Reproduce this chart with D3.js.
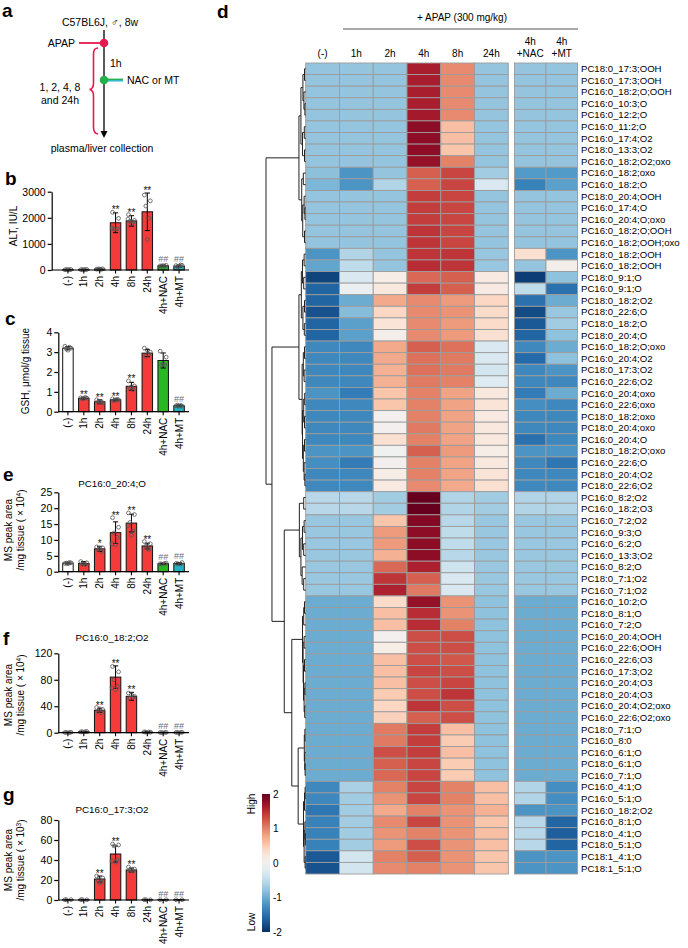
<!DOCTYPE html>
<html><head><meta charset="utf-8">
<script src="https://cdn.jsdelivr.net/npm/d3@7"></script>
<style>
body{margin:0;background:#fff;}
svg{display:block;font-family:"Liberation Sans",Arial,Helvetica,sans-serif;}
</style></head><body>
<svg id="fig" width="688" height="948"></svg>
<script>
// ================= DATA =================
const groups = ["(-)","1h","2h","4h","8h","24h","4h+NAC","4h+MT"];

// panel b: ALT (IU/L)
const altMean = [15, 15, 35, 1810, 1880, 2230, 160, 150];
const altSD   = [10, 8, 10, 380, 200, 720, 30, 40];
const altPts  = [[10,20,15,12,18],[15,20,10,18,14],[30,45,40,25,35],[2210,1980,1570,1580,1560,1600],[2120,1900,1870,1830,1760,1950],[2870,2650,2450,1980,1170],[160,180,150,140,170],[170,180,120,190,150]];
const altStats = ["","","","**","**","**","##","##"];

// panel c: GSH (umol/g tissue)
const gshMean = [3.2, 0.68, 0.5, 0.6, 1.28, 2.95, 2.58, 0.3];
const gshSD   = [0.08, 0.05, 0.1, 0.05, 0.2, 0.18, 0.38, 0.05];
const gshPts  = [[3.3,3.2,3.15,3.25,3.1],[0.7,0.68,0.65,0.72,0.66],[0.6,0.45,0.5,0.48,0.52],[0.65,0.6,0.55,0.62,0.58],[1.55,1.3,1.2,1.1,1.25],[3.2,3.0,2.8,2.9,3.1],[3.05,2.75,2.35,2.35,2.4],[0.3,0.28,0.33,0.32,0.27]];
const gshStats = ["","**","**","**","**","","","##"];

// panel e: PC16:0_20:4;O (x10^4)
const eMean = [2.7, 2.6, 7.2, 12.3, 15.3, 8.1, 2.5, 2.6];
const eSD   = [0.3, 0.6, 0.8, 3.4, 2.8, 0.9, 0.2, 0.3];
const ePts  = [[2.6,2.8,2.7,2.9,2.5],[3.2,2.8,2.4,2.3,2.5],[7.8,7.5,7.0,6.3,7.4],[17.0,14.0,12.2,10.8,8.5,8.8],[18.5,18.0,15.5,12.8,11.5,14.5],[9.5,8.8,8.0,7.0,7.2],[2.5,2.7,2.4,2.6],[2.6,2.9,2.5,2.4]];
const eStats = ["","","*","**","**","**","##","##"];

// panel f: PC16:0_18:2;O2 (x10^4)
const fMean = [0.5, 1.5, 34, 84, 55, 1.0, 0.4, 0.5];
const fSD   = [0.3, 0.5, 3, 17, 6, 0.5, 0.2, 0.2];
const fPts  = [[0.4,0.6,0.5,0.3],[1.2,1.8,1.5,1.6],[38,35,32,30,36],[100,92,80,70,65,68],[60,55,52,54,57],[1.2,0.8,1.0,1.1],[0.4,0.5,0.3,0.4],[0.5,0.6,0.4,0.5]];
const fStats = ["","","**","**","**","","##","##"];

// panel g: PC16:0_17:3;O2 (x10^3)
const gMean = [0.3, 0.3, 21, 46, 30, 0.3, 0.3, 0.3];
const gSD   = [0.2, 0.2, 3, 8, 2, 0.2, 0.1, 0.1];
const gPts  = [[0.3,0.4,0.2],[0.3,0.2,0.4],[24,22,20,18,17],[56,55,54,40,38,39],[33,31,30,29,30],[0.3,0.2,0.4],[0.3,0.3],[0.3,0.3]];
const gStats = ["","","**","**","**","","##","##"];

// panel d: heatmap
const heatCols = ["(-)","1h","2h","4h","8h","24h","4h|+NAC","4h|+MT"];
const rowLabels = [
"PC18:0_17:3;OOH","PC16:0_17:3;OOH","PC16:0_18:2;O;OOH","PC16:0_10:3;O","PC16:0_12:2;O","PC16:0_11:2;O",
"PC16:0_17:4;O2","PC18:0_13:3;O2","PC16:0_18:2;O2;oxo","PC16:0_18:2;oxo","PC16:0_18:2;O","PC18:0_20:4;OOH",
"PC16:0_17:4;O","PC16:0_20:4;O;oxo","PC16:0_18:2;O;OOH","PC16:0_18:2;OOH;oxo","PC18:0_18:2;OOH","PC16:0_18:2;OOH",
"PC18:0_9:1;O","PC16:0_9:1;O","PC18:0_18:2;O2","PC18:0_22:6;O","PC18:0_18:2;O","PC18:0_20:4;O",
"PC16:0_18:2;O;oxo","PC16:0_20:4;O2","PC18:0_17:3;O2","PC16:0_22:6;O2","PC16:0_20:4;oxo","PC16:0_22:6;oxo",
"PC18:0_18:2;oxo","PC18:0_20:4;oxo","PC16:0_20:4;O","PC18:0_18:2;O;oxo","PC16:0_22:6;O","PC18:0_20:4;O2",
"PC18:0_22:6;O2","PC16:0_8:2;O2","PC16:0_18:2;O3","PC16:0_7:2;O2","PC16:0_9:3;O","PC16:0_6:2;O",
"PC16:0_13:3;O2","PC16:0_8:2;O","PC18:0_7:1;O2","PC16:0_7:1;O2","PC16:0_10:2;O","PC18:0_8:1;O",
"PC16:0_7:2;O","PC16:0_20:4;OOH","PC16:0_22:6;OOH","PC16:0_22:6;O3","PC16:0_17:3;O2","PC16:0_20:4;O3",
"PC18:0_20:4;O3","PC16:0_20:4;O2;oxo","PC16:0_22:6;O2;oxo","PC18:0_7:1;O","PC16:0_8:0","PC16:0_6:1;O",
"PC18:0_6:1;O","PC16:0_7:1;O","PC16:0_4:1;O","PC16:0_5:1;O","PC16:0_18:2;O2","PC16:0_8:1;O",
"PC18:0_4:1;O","PC18:0_5:1;O","PC18:1_4:1;O","PC18:1_5:1;O"];
// z-scores: (-),1h,2h,4h,8h,24h,NAC,MT
const heatValues = [
[-0.77,-0.77,-0.77,1.62,0.95,-0.77,-0.77,-0.77],
[-0.77,-0.77,-0.77,1.62,0.95,-0.77,-0.77,-0.77],
[-0.77,-0.77,-0.77,1.62,0.95,-0.77,-0.77,-0.77],
[-0.77,-0.77,-0.77,1.62,0.95,-0.77,-0.77,-0.77],
[-0.77,-0.77,-0.77,1.65,0.95,-0.77,-0.77,-0.77],
[-0.77,-0.77,-0.77,1.80,0.60,-0.77,-0.77,-0.77],
[-0.77,-0.77,-0.77,1.80,0.60,-0.77,-0.77,-0.77],
[-0.77,-0.77,-0.77,1.80,0.55,-0.77,-0.77,-0.77],
[-0.77,-0.77,-0.77,1.75,1.00,-0.77,-0.77,-0.77],
[-0.82,-1.20,-0.77,1.20,1.35,-0.70,-1.15,-1.15],
[-0.90,-1.20,-0.60,1.20,1.35,-0.30,-1.35,-1.10],
[-0.77,-0.77,-0.77,1.40,1.35,-0.77,-0.77,-0.77],
[-0.77,-0.77,-0.77,1.40,1.35,-0.77,-0.77,-0.77],
[-0.77,-0.77,-0.77,1.40,1.35,-0.77,-0.77,-0.77],
[-0.77,-0.77,-0.77,1.45,1.35,-0.77,-0.77,-0.77],
[-0.77,-0.77,-0.77,1.45,1.35,-0.77,-0.77,-0.77],
[-1.20,-0.60,-0.77,1.45,1.45,-0.75,0.30,-1.20],
[-1.05,-0.50,-0.77,1.50,1.45,-0.75,-0.77,0.05],
[-1.85,-0.30,0.10,1.15,1.20,0.15,-1.90,-0.80],
[-1.60,-0.10,0.20,1.40,1.20,0.15,-0.50,-1.50],
[-1.60,-1.00,0.75,0.95,0.85,0.40,-1.50,-1.00],
[-1.75,-0.85,0.40,0.95,0.90,0.35,-1.80,-0.75],
[-1.60,-1.10,0.25,0.95,0.85,0.35,-1.70,-0.70],
[-1.60,-1.10,0.05,0.95,0.85,0.30,-1.60,-0.80],
[-1.30,-1.30,0.75,1.20,1.10,-0.30,-1.30,-1.00],
[-1.30,-1.30,0.75,1.10,1.05,-0.30,-1.55,-0.80],
[-1.30,-1.30,0.70,1.10,1.05,-0.35,-1.30,-1.20],
[-1.30,-1.30,0.70,1.05,1.00,-0.25,-1.30,-1.30],
[-1.20,-1.40,0.55,1.00,0.80,0.20,-1.40,-1.00],
[-1.30,-1.30,0.55,1.00,0.80,0.25,-1.25,-1.30],
[-1.30,-1.30,0.00,1.00,0.80,0.15,-1.30,-1.30],
[-1.30,-1.30,0.00,1.05,0.80,0.20,-1.30,-1.30],
[-1.30,-1.30,0.30,1.00,0.80,0.20,-1.50,-1.30],
[-1.20,-1.20,-0.05,1.20,0.85,0.10,-1.20,-1.20],
[-1.25,-1.40,0.00,1.00,0.80,0.20,-1.30,-1.45],
[-1.30,-1.30,0.10,1.00,0.80,0.25,-1.30,-1.30],
[-1.30,-1.30,0.15,0.95,0.75,0.30,-1.30,-1.30],
[-0.55,-0.55,-0.70,2.00,-0.60,-0.70,-0.60,-0.60],
[-0.55,-0.55,-0.70,2.00,-0.60,-0.70,-0.60,-0.60],
[-0.75,-0.75,0.55,1.85,-0.55,-0.75,-0.75,-0.75],
[-0.75,-0.75,0.85,1.80,-0.50,-0.75,-0.75,-0.75],
[-0.75,-0.75,0.85,1.80,-0.50,-0.75,-0.75,-0.75],
[-0.75,-0.75,0.70,1.80,-0.55,-0.75,-0.75,-0.75],
[-0.75,-0.75,1.15,1.60,-0.40,-0.75,-0.75,-0.75],
[-0.75,-0.75,1.45,1.20,-0.30,-0.75,-0.75,-0.75],
[-0.75,-0.75,1.60,1.05,-0.30,-0.75,-0.75,-0.75],
[-1.00,-1.00,0.35,1.75,0.90,-0.80,-1.00,-1.00],
[-1.00,-1.00,0.60,1.50,0.90,-0.80,-1.00,-1.00],
[-1.00,-1.00,0.60,1.50,1.00,-0.80,-1.00,-1.00],
[-1.00,-1.00,0.00,1.30,1.30,-0.80,-1.00,-1.00],
[-1.00,-1.00,0.10,1.30,1.30,-0.80,-1.00,-1.00],
[-1.00,-1.00,0.60,1.30,1.25,-0.80,-1.00,-1.00],
[-1.00,-1.00,0.60,1.35,1.30,-0.80,-1.00,-1.00],
[-1.00,-1.00,0.60,1.30,1.35,-0.80,-1.00,-1.00],
[-1.00,-1.00,0.50,1.30,1.45,-0.80,-1.00,-1.00],
[-1.00,-1.00,0.40,1.45,1.30,-0.80,-1.00,-1.00],
[-1.00,-1.00,0.45,1.20,1.30,-0.80,-1.00,-1.00],
[-1.00,-1.00,1.05,1.40,0.60,-0.80,-1.00,-1.00],
[-1.00,-1.00,1.05,1.40,0.50,-0.80,-1.00,-1.00],
[-1.00,-1.00,1.30,1.40,0.60,-0.80,-1.00,-1.00],
[-1.00,-1.00,1.20,1.35,0.50,-0.80,-1.00,-1.00],
[-1.00,-1.00,1.15,1.35,0.50,-0.80,-1.00,-1.00],
[-1.30,-0.65,1.00,1.35,1.00,0.60,-0.60,-1.25],
[-1.30,-0.70,0.90,1.35,1.00,0.60,-0.60,-1.25],
[-1.45,-0.70,0.75,1.00,0.90,0.70,-1.20,-1.20],
[-1.35,-0.70,0.95,1.35,0.90,0.55,-0.55,-1.60],
[-1.35,-0.70,0.90,1.00,0.90,0.60,-0.55,-1.65],
[-1.35,-0.70,0.85,1.30,0.90,0.60,-0.55,-1.60],
[-1.70,-0.35,1.00,1.20,0.90,0.55,-1.20,-1.20],
[-1.75,-0.35,0.95,1.00,0.90,0.55,-1.20,-1.20]];
// row dendrogram: [height, child, child]; leaves are row indices
const dendroTree = [10,
  [1.7,
    [1.2, [0.7, [0.3, 0, 1], [0.45, 2, [0.2, 3, 4]]], [0.8, [0.35, 5, 6], [0.3, 7, 8]]],
    [1.0, [0.6, 9, 10], [0.75, [0.4, 11, [0.2, 12, 13]], [0.3, 14, 15]]]],
  [8.5,
    [1.7,
      [1.1, [0.8, [0.4, 16, 17], [0.5, 18, 19]], [0.7, [0.3, 20, 21], [0.35, 22, 23]]],
      [0.9, [0.6, [0.3, 24, 25], [0.4, 26, 27]], [0.8, [0.5, [0.25, 28, 29], [0.3, 30, 31]], [0.6, [0.3, 32, 33], [0.4, 34, [0.2, 35, 36]]]]]],
    [5.4,
      [1.6, [0.5, 37, 38], [1.2, [0.8, [0.4, 39, 40], [0.5, 41, 42]], [0.9, 43, [0.5, 44, 45]]]],
      [3.5,
        [0.8, [0.5, [0.3, 46, 47], 48], [0.65, [0.4, 49, 50], [0.55, [0.3, 51, 52], [0.4, [0.2, 53, 54], [0.25, 55, 56]]]]],
        [1.9, [0.35, [0.2, 57, 58], [0.25, 59, [0.15, 60, 61]]], [0.55, [0.3, [0.15, 62, 63], 64], [0.4, [0.2, 65, [0.1, 66, 67]], [0.15, 68, 69]]]]]]]];
const legendTicks = [2, 1, 0, -1, -2];

// ================= DRAW =================
const svg = d3.select("#fig");
const RED = "#f53a3a", GREEN = "#27b824", CYAN = "#1fb3c4";
const barFill = ["#ffffff", RED, RED, RED, RED, RED, GREEN, CYAN];
const jit = [-3, 3, -1.5, 1.5, 0, -3.5];

function letter(t, x, y) {
  svg.append("text").text(t).attr("x", x).attr("y", y)
    .style("font-weight", "bold").style("font-size", "19px");
}

// ---- panel a ----
(function () {
  const g = svg.append("g");
  const red = "#e5194d";
  letter("a", 2, 17);
  g.append("text").text("C57BL6J, \u2642, 8w").attr("x", 100).attr("y", 26)
    .attr("text-anchor", "middle").style("font-size", "10.5px");
  g.append("line").attr("x1", 104).attr("x2", 104).attr("y1", 30).attr("y2", 133)
    .attr("stroke", "#000").attr("stroke-width", 1.3);
  g.append("path").attr("d", "M100.5,131L107.5,131L104,138Z").attr("fill", "#000");
  g.append("line").attr("x1", 79).attr("x2", 104).attr("y1", 43).attr("y2", 43)
    .attr("stroke", red).attr("stroke-width", 1.8);
  g.append("circle").attr("cx", 104).attr("cy", 43).attr("r", 4.3).attr("fill", red);
  g.append("text").text("APAP").attr("x", 75).attr("y", 43).attr("dy", "0.35em")
    .attr("text-anchor", "end").style("font-size", "10.5px");
  g.append("text").text("1h").attr("x", 110).attr("y", 63).attr("dy", "0.35em").style("font-size", "10.5px");
  g.append("line").attr("x1", 104).attr("x2", 123).attr("y1", 79.3).attr("y2", 79.3)
    .attr("stroke", "#22b14c").attr("stroke-width", 1.4);
  g.append("line").attr("x1", 104).attr("x2", 123).attr("y1", 80.8).attr("y2", 80.8)
    .attr("stroke", "#19b5c8").attr("stroke-width", 1.4);
  g.append("circle").attr("cx", 104).attr("cy", 80).attr("r", 4.3).attr("fill", "#22b14c");
  g.append("text").text("NAC or MT").attr("x", 127).attr("y", 80).attr("dy", "0.35em").style("font-size", "10.5px");
  const p = d3.path();
  p.moveTo(98, 48); p.quadraticCurveTo(93.5, 48, 93.5, 54); p.lineTo(93.5, 83);
  p.quadraticCurveTo(93.5, 89, 89.5, 89.5); p.quadraticCurveTo(93.5, 90, 93.5, 96);
  p.lineTo(93.5, 127); p.quadraticCurveTo(93.5, 133.5, 98, 134);
  g.append("path").attr("d", p.toString()).attr("fill", "none").attr("stroke", red).attr("stroke-width", 1.6);
  g.append("text").text("1, 2, 4, 8").attr("x", 60).attr("y", 87).attr("dy", "0.35em")
    .attr("text-anchor", "middle").style("font-size", "10.5px");
  g.append("text").text("and 24h").attr("x", 60).attr("y", 100).attr("dy", "0.35em")
    .attr("text-anchor", "middle").style("font-size", "10.5px");
  g.append("text").text("plasma/liver collection").attr("x", 102).attr("y", 148).attr("dy", "0.35em")
    .attr("text-anchor", "middle").style("font-size", "10.5px");
})();

// ---- bar panels ----
const panels = [
  {L: "b", lx: 5, ly: 185, means: altMean, sds: altSD, pts: altPts, stats: altStats, ticks: [0, 1000, 2000, 3000],
   y0: 270, y1: 191.7, axisX: 51.7, ylab: ["ALT, IU/L"], ylabX: [13], ylabY: 226},
  {L: "c", lx: 5, ly: 325, means: gshMean, sds: gshSD, pts: gshPts, stats: gshStats, ticks: [0, 1, 2, 3, 4],
   y0: 411.7, y1: 332.3, axisX: 58.3, ylab: ["GSH, \u03bcmol/g tissue"], ylabX: [25], ylabY: 371},
  {L: "e", lx: 3, ly: 481, title: "PC16:0_20:4;O", ty: 487, means: eMean, sds: eSD, pts: ePts, stats: eStats, ticks: [0, 5, 10, 15, 20, 25],
   y0: 571.7, y1: 492.3, axisX: 58.3, ylab: ["MS peak area", "/mg tissue ( \u00d7 10|4|)"], ylabX: [8, 20], ylabY: 530},
  {L: "f", lx: 3, ly: 645, title: "PC16:0_18:2;O2", ty: 641, means: fMean, sds: fSD, pts: fPts, stats: fStats, ticks: [0, 40, 80, 120],
   y0: 732.7, y1: 653.3, axisX: 58.3, ylab: ["MS peak area", "/mg tissue ( \u00d7 10|4|)"], ylabX: [8, 20], ylabY: 695},
  {L: "g", lx: 3, ly: 801, title: "PC16:0_17:3;O2", ty: 813, means: gMean, sds: gSD, pts: gPts, stats: gStats, ticks: [0, 20, 40, 60, 80],
   y0: 900, y1: 820, axisX: 58.3, ylab: ["MS peak area", "/mg tissue ( \u00d7 10|3|)"], ylabX: [8, 20], ylabY: 860}
];

panels.forEach(p => {
  letter(p.L, p.lx, p.ly);
  const g = svg.append("g");
  const x = d3.scaleBand().domain(groups).range([60, 187]);
  const y = d3.scaleLinear().domain([0, p.ticks[p.ticks.length - 1]]).range([p.y0, p.y1]);
  const cx = k => x(k) + x.bandwidth() / 2;
  const bw = 10.5;
  if (p.title) g.append("text").text(p.title).attr("x", 112).attr("y", p.ty)
    .attr("text-anchor", "middle").style("font-size", "9.8px");
  g.selectAll("rect.bar").data(groups).join("rect").attr("class", "bar")
    .attr("x", k => cx(k) - bw / 2).attr("y", (k, i) => y(p.means[i]))
    .attr("width", bw).attr("height", (k, i) => p.y0 - y(p.means[i]))
    .attr("fill", (k, i) => barFill[i]).attr("stroke", "#111").attr("stroke-width", 1);
  groups.forEach((k, i) => {
    const m = p.means[i], s = p.sds[i];
    const lo = y(Math.max(0, m - s)), hi = y(m + s), c = cx(k);
    g.append("line").attr("x1", c).attr("x2", c).attr("y1", lo).attr("y2", hi).attr("stroke", "#000").attr("stroke-width", 1);
    g.append("line").attr("x1", c - 2.6).attr("x2", c + 2.6).attr("y1", hi).attr("y2", hi).attr("stroke", "#000").attr("stroke-width", 1);
    g.append("line").attr("x1", c - 2.6).attr("x2", c + 2.6).attr("y1", lo).attr("y2", lo).attr("stroke", "#000").attr("stroke-width", 1);
    g.selectAll(null).data(p.pts[i]).join("circle")
      .attr("cx", (v, j) => c + jit[j % jit.length]).attr("cy", v => y(v)).attr("r", 1.9)
      .attr("fill", "none").attr("stroke", "#555").attr("stroke-width", 0.8);
    if (p.stats[i]) {
      const top = Math.min(hi, y(d3.max(p.pts[i])));
      const isHash = p.stats[i].startsWith("#");
      g.append("text").text(p.stats[i]).attr("x", c).attr("y", isHash ? top - 3 : top + 1)
        .attr("text-anchor", "middle").style("font-size", isHash ? "9px" : "10px")
        .attr("fill", isHash ? "#6e6e6e" : "#111");
    }
  });
  const ax = g.append("g").attr("transform", `translate(${p.axisX},0)`)
    .call(d3.axisLeft(y).tickValues(p.ticks).tickSize(4).tickSizeOuter(0).tickFormat(d3.format("d")));
  ax.select(".domain").attr("stroke", "#000").attr("stroke-width", 1.2);
  ax.selectAll(".tick line").attr("stroke", "#000").attr("stroke-width", 1.2);
  ax.selectAll(".tick text").style("font-size", "10.5px").style("font-family", "Liberation Sans, Arial, sans-serif").attr("fill", "#000").attr("x", -6);
  g.append("line").attr("x1", p.axisX).attr("x2", 189).attr("y1", p.y0).attr("y2", p.y0)
    .attr("stroke", "#000").attr("stroke-width", 1.2);
  groups.forEach(k => {
    g.append("line").attr("x1", cx(k)).attr("x2", cx(k)).attr("y1", p.y0).attr("y2", p.y0 + 3.5)
      .attr("stroke", "#000").attr("stroke-width", 1.1);
    g.append("text").text(k).attr("transform", `translate(${cx(k)},${p.y0 + 6}) rotate(-90)`)
      .attr("text-anchor", "end").attr("dy", "0.35em").style("font-size", "10px");
  });
  p.ylab.forEach((t, i) => {
    const parts = t.split("|");
    const tx = g.append("text").attr("transform", `translate(${p.ylabX[i]},${p.ylabY}) rotate(-90)`)
      .attr("text-anchor", "middle").attr("dy", "0.35em").style("font-size", "10px");
    tx.append("tspan").text(parts[0]);
    if (parts.length > 1) {
      tx.append("tspan").text(parts[1]).attr("dy", "-0.45em").style("font-size", "6.5px");
      tx.append("tspan").text(parts[2]).attr("dy", "0.45em");
    }
  });
});

// ---- panel d: heatmap ----
letter("d", 217, 18);
const color = d3.scaleSequential(d3.interpolateRdBu).domain([2, -2]);
const rowY = d3.scaleBand().domain(d3.range(rowLabels.length)).range([63, 874]);
const colL = d3.scaleBand().domain(d3.range(6)).range([305.7, 508.3]);
const colR = d3.scaleBand().domain([6, 7]).range([514.5, 577.5]);
const colX = c => c < 6 ? colL(c) : colR(c);
const colW = c => c < 6 ? colL.bandwidth() : colR.bandwidth();
const hg = svg.append("g");
heatValues.forEach((row, r) => {
  hg.selectAll(null).data(row).join("rect")
    .attr("x", (v, c) => colX(c)).attr("y", rowY(r))
    .attr("width", (v, c) => colW(c)).attr("height", rowY.bandwidth())
    .attr("fill", v => color(v)).attr("stroke", "#9c9c9c").attr("stroke-width", 0.9);
});
hg.selectAll("text.rl").data(rowLabels).join("text").attr("class", "rl")
  .attr("x", 581).attr("y", (d, i) => rowY(i) + rowY.bandwidth() / 2).attr("dy", "0.35em")
  .style("font-size", "9.6px").text(d => d);
heatCols.forEach((h, c) => {
  const parts = h.split("|");
  const xm = colX(c) + colW(c) / 2;
  parts.forEach((t, j) => {
    hg.append("text").text(t).attr("x", xm).attr("y", 57 - (parts.length - 1 - j) * 12)
      .attr("text-anchor", "middle").style("font-size", "10px");
  });
});
hg.append("text").text("+ APAP (300 mg/kg)").attr("x", 462).attr("y", 21)
  .attr("text-anchor", "middle").style("font-size", "10px");
hg.append("line").attr("x1", 343).attr("x2", 578).attr("y1", 29).attr("y2", 29)
  .attr("stroke", "#555").attr("stroke-width", 1);

// dendrogram
const hx = d3.scaleLinear().domain([0, 10]).range([305.7, 266]);
const root = d3.hierarchy(dendroTree, d => Array.isArray(d) ? d.slice(1) : null);
root.eachAfter(n => {
  if (n.children) {
    n.h = n.data[0];
    n.yy = (n.children[0].yy + n.children[n.children.length - 1].yy) / 2;
  } else {
    n.h = 0;
    n.yy = rowY(n.data) + rowY.bandwidth() / 2;
  }
});
const dg = svg.append("g");
root.descendants().filter(n => n.children).forEach(n => {
  const a = n.children[0], b = n.children[n.children.length - 1];
  dg.append("path")
    .attr("d", `M${hx(a.h)},${a.yy}H${hx(n.h)}V${b.yy}H${hx(b.h)}`)
    .attr("fill", "none").attr("stroke", "#222").attr("stroke-width", 1);
});

// color legend
const defs = svg.append("defs");
const lg = defs.append("linearGradient").attr("id", "lg").attr("x1", 0).attr("y1", 0).attr("x2", 0).attr("y2", 1);
d3.range(0, 1.0001, 0.05).forEach(t => lg.append("stop").attr("offset", t).attr("stop-color", color(2 - 4 * t)));
const legY = d3.scaleLinear().domain([2, -2]).range([794, 932]);
svg.append("rect").attr("x", 262).attr("y", legY(2)).attr("width", 8).attr("height", legY(-2) - legY(2)).attr("fill", "url(#lg)");
svg.selectAll("text.lt").data(legendTicks).join("text").attr("class", "lt")
  .attr("x", 273).attr("y", d => legY(d)).attr("dy", "0.35em").style("font-size", "10px").text(d => d);
svg.append("text").text("High").attr("transform", "translate(251,804) rotate(-90)")
  .attr("text-anchor", "middle").attr("dy", "0.35em").style("font-size", "10px");
svg.append("text").text("Low").attr("transform", "translate(251,922) rotate(-90)")
  .attr("text-anchor", "middle").attr("dy", "0.35em").style("font-size", "10px");
</script>
</body></html>
